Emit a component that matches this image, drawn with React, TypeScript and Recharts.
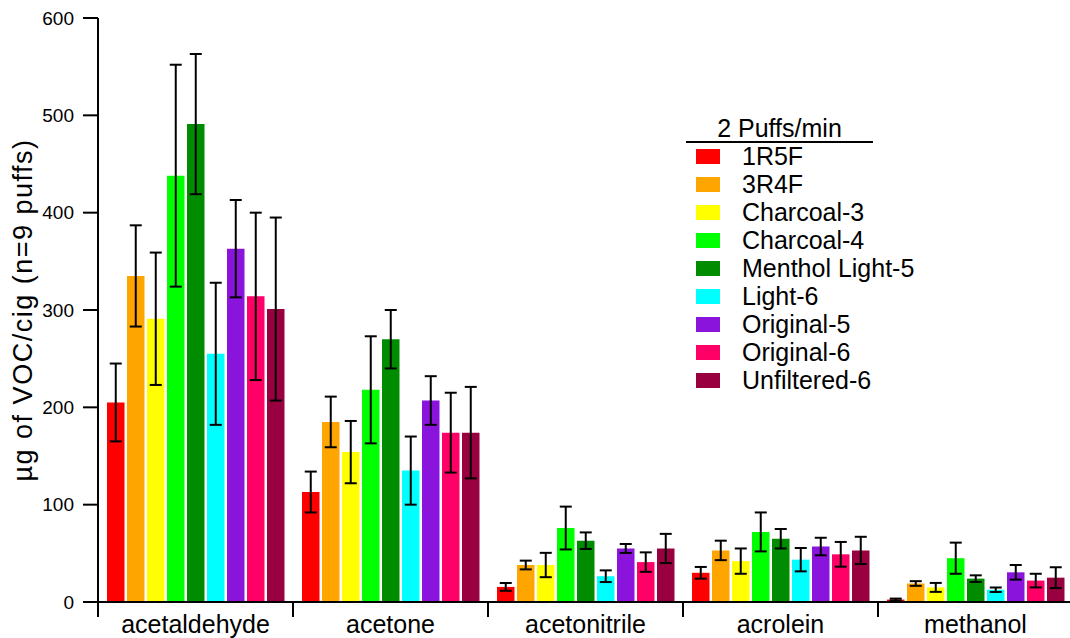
import { BarChart, Bar, XAxis, YAxis, ErrorBar, Legend } from 'recharts';

// VOC yields per cigarette, 2 puffs/min
const categories = ['acetaldehyde', 'acetone', 'acetonitrile', 'acrolein', 'methanol'];
const seriesNames = [
  '1R5F',
  '3R4F',
  'Charcoal-3',
  'Charcoal-4',
  'Menthol Light-5',
  'Light-6',
  'Original-5',
  'Original-6',
  'Unfiltered-6',
];
const seriesColors = [
  '#FF0000',
  '#FFA500',
  '#FFFF00',
  '#00FF00',
  '#008C00',
  '#00FFFF',
  '#8A14DC',
  '#FF0066',
  '#990040',
];

const r1r5f = [205, 113, 15.5, 30, 2.5];
const r3r4f = [335, 185, 38, 53, 19];
const charcoal3 = [291, 154, 38, 42, 15];
const charcoal4 = [438, 218, 76, 72, 45];
const mentholLight5 = [491, 270, 63, 65, 24];
const light6 = [255, 135, 26.5, 43.5, 12.6];
const original5 = [363, 207, 55, 57, 30.5];
const original6 = [314, 174, 41, 49, 22];
const unfiltered6 = [301, 174, 55, 53, 25];

const r1r5fErr = [40, 21, 4, 6, 1];
const r3r4fErr = [52, 26, 4.5, 10, 2.4];
const charcoal3Err = [68, 32, 12.5, 13, 4.6];
const charcoal4Err = [114, 55, 22, 20, 16];
const mentholLight5Err = [72, 30, 8.5, 10, 3.4];
const light6Err = [73, 35, 6, 12, 2.3];
const original5Err = [50, 25, 4.6, 9, 7.5];
const original6Err = [86, 41, 10, 12.7, 7];
const unfiltered6Err = [94, 47, 15, 14, 10.7];

const yTicks = [0, 100, 200, 300, 400, 500, 600];

const allValues = [r1r5f, r3r4f, charcoal3, charcoal4, mentholLight5, light6, original5, original6, unfiltered6];
const allErrors = [
  r1r5fErr,
  r3r4fErr,
  charcoal3Err,
  charcoal4Err,
  mentholLight5Err,
  light6Err,
  original5Err,
  original6Err,
  unfiltered6Err,
];

const data = categories.map((name, c) => {
  const row: Record<string, number | string> = { name };
  allValues.forEach((vals, s) => {
    row[`v${s}`] = vals[c];
    row[`e${s}`] = allErrors[s][c];
  });
  return row;
});

const FONT = '"Liberation Sans", Arial, sans-serif';

const CategoryTick = (props: any) => {
  const { x, y, payload } = props;
  const half = payload && payload.offset ? payload.offset : 97.5;
  return (
    <g>
      <line x1={x - half} y1={y} x2={x - half} y2={y + 15} stroke="#000" strokeWidth={2} />
      <text x={x} y={y + 31} textAnchor="middle" fontFamily={FONT} fontSize={25} fill="#000">
        {payload.value}
      </text>
    </g>
  );
};

const LegendBox = () => (
  <div style={{ width: 187, fontFamily: FONT, color: '#000', whiteSpace: 'nowrap' }}>
    <div
      style={{
        textAlign: 'center',
        fontSize: 25,
        lineHeight: '26px',
        borderBottom: '2px solid #000',
      }}
    >
      2 Puffs/min
    </div>
    {seriesNames.map((name, i) => (
      <div key={name} style={{ display: 'flex', alignItems: 'center', height: 27.9, fontSize: 25 }}>
        <div style={{ width: 24, height: 15, marginLeft: 10, background: seriesColors[i], flex: 'none' }} />
        <span style={{ marginLeft: 22 }}>{name}</span>
      </div>
    ))}
  </div>
);

export default function App() {
  return (
    <div style={{ position: 'absolute', left: 0, top: 0, width: 1070, height: 638, overflow: 'hidden', background: '#fff' }}>
      <BarChart
        width={1073}
        height={638}
        data={data}
        margin={{ top: 18, right: 0, bottom: 0, left: 0 }}
        barSize={17.5}
        barGap={2.5}
      >
        <XAxis
          dataKey="name"
          height={36}
          axisLine={{ stroke: '#000', strokeWidth: 2 }}
          tickLine={false}
          tickSize={0}
          tickMargin={0}
          tick={<CategoryTick />}
          interval={0}
        />
        <YAxis
          width={98}
          domain={[0, 600]}
          ticks={yTicks}
          allowDataOverflow
          axisLine={{ stroke: '#000', strokeWidth: 2 }}
          tickLine={{ stroke: '#000', strokeWidth: 2 }}
          tickSize={15}
          tickMargin={9}
          tick={{ fill: '#000', fontSize: 19, fontFamily: FONT }}
          label={{
            content: () => (
              <text
                x={23}
                y={310}
                transform="rotate(-90 23 310)"
                textAnchor="middle"
                dominantBaseline="central"
                fontFamily={FONT}
                fontSize={27}
                letterSpacing={1.5}
                fill="#000"
              >
                µg of VOC/cig (n=9 puffs)
              </text>
            ),
          }}
        />
        <Legend
          layout="horizontal"
          verticalAlign="middle"
          align="center"
          content={<LegendBox />}
          wrapperStyle={{ left: 686, top: 115, width: 260 }}
        />
        {seriesNames.map((name, i) => (
          <Bar key={name} name={name} dataKey={`v${i}`} fill={seriesColors[i]} isAnimationActive={false}>
            <ErrorBar dataKey={`e${i}`} width={6} strokeWidth={2} stroke="#000" direction="y" />
          </Bar>
        ))}
      </BarChart>
    </div>
  );
}
